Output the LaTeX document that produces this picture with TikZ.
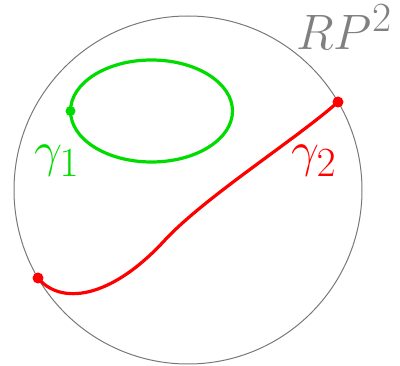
\documentclass[tikz,border=0pt]{standalone}
\definecolor{brightgreen}{RGB}{0,220,0}
\definecolor{brightred}{RGB}{255,0,0}
\definecolor{circgray}{RGB}{120,120,120}
\tikzset{
  curveline/.style={line width=3.2pt, line cap=round},
  dotmark/.style={circle, fill, inner sep=0pt, minimum size=11pt},
  biglabel/.style={inner sep=0pt, font=\Huge, scale=2}
}
\begin{document}
\begin{tikzpicture}[x=1pt,y=-1pt]
\useasboundingbox (0,0) rectangle (400,366);
% disk
\draw[circgray, line width=1pt] (188,190) circle [radius=174pt];
% green loop
\draw[brightgreen, curveline] (151.5,111) ellipse [x radius=81pt, y radius=51pt];
\node[dotmark, brightgreen, minimum size=10pt] (g1) at (70.5,111) {};
% red path
\coordinate (pA) at (38,278);
\coordinate (pB) at (338,102);
\draw[brightred, curveline] (pA) .. controls (60,305) and (110,300) .. (165,240)
   .. controls (205,197) and (295,140) .. (pB);
\node[dotmark, brightred] (r1) at (pA) {};
\node[dotmark, brightred] (r2) at (pB) {};
% labels
\node[biglabel, text=gray, anchor=base west] (rp) at (296,50) {$RP^2$};
\node[biglabel, text=brightgreen, anchor=base west] (lg1) at (34,167) {$\gamma_1$};
\node[biglabel, text=brightred, anchor=base west] (lg2) at (291,167) {$\gamma_2$};
\end{tikzpicture}
\end{document}
